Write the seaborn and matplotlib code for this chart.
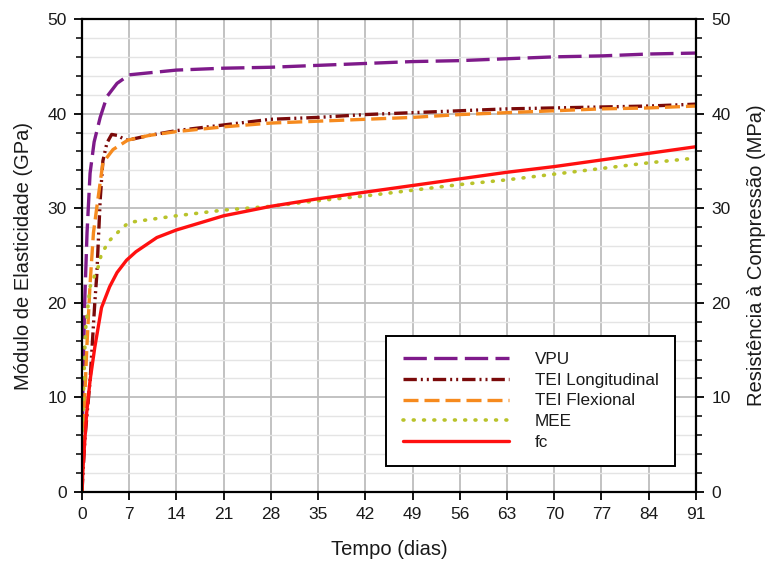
import numpy as np
import pandas as pd
import matplotlib
matplotlib.use("Agg")
import matplotlib.pyplot as plt
from matplotlib.ticker import MultipleLocator
import seaborn as sns

# Elastic modulus (GPa) and compressive strength (MPa) versus age (days)
vpu_t = [0, 0.15, 0.4, 0.75, 1.2, 1.8, 2.7, 3.7, 5.2, 7, 14, 21, 28, 35, 42, 49, 56, 63, 70, 77, 84, 91]
vpu_e = [0, 12, 20, 27.4, 33.7, 37.0, 39.6, 41.8, 43.2, 44.1, 44.6, 44.8, 44.9, 45.1, 45.3, 45.5, 45.6, 45.8, 46.0, 46.1, 46.3, 46.4]

teil_t = [0, 0.45, 1.2, 1.9, 2.2, 2.7, 3.1, 3.7, 4.4, 5.2, 6.0, 6.8, 10, 14, 21, 28, 35, 42, 49, 56, 63, 70, 77, 84, 91]
teil_e = [0, 5.8, 11.8, 20.0, 23.0, 30.9, 35.0, 36.9, 37.8, 37.7, 37.4, 37.2, 37.7, 38.2, 38.8, 39.4, 39.6, 39.9, 40.1, 40.3, 40.5, 40.6, 40.7, 40.8, 41.0]

teif_t = [0, 0.3, 0.7, 1.2, 1.7, 2.2, 3.1, 4.6, 6.8, 10, 14, 21, 28, 35, 42, 49, 56, 63, 70, 77, 84, 91]
teif_e = [0, 8, 15, 22.0, 27.4, 30.1, 34.8, 36.2, 37.2, 37.7, 38.1, 38.6, 39.0, 39.2, 39.4, 39.6, 39.9, 40.1, 40.3, 40.5, 40.6, 40.8]

mee_t = [0, 0.15, 0.5, 1.2, 2.4, 2.9, 4.1, 6.1, 7, 14, 21, 28, 35, 42, 49, 56, 63, 70, 77, 84, 91]
mee_e = [0, 8.4, 17.0, 21.7, 23.8, 25.2, 26.6, 28.0, 28.5, 29.2, 29.8, 30.2, 30.8, 31.3, 31.9, 32.5, 33.0, 33.6, 34.2, 34.8, 35.3]

fc_t = [0, 0.15, 0.7, 1.2, 1.9, 2.9, 4.1, 5.2, 6.6, 8, 11.1, 14, 21, 28, 35, 42, 49, 56, 63, 70, 77, 84, 91]
fc_v = [0, 2.6, 8.4, 11.8, 15.3, 19.5, 21.7, 23.2, 24.5, 25.4, 26.9, 27.7, 29.2, 30.2, 31.0, 31.7, 32.4, 33.1, 33.8, 34.4, 35.1, 35.8, 36.5]

x_ticks = list(range(0, 92, 7))
y_ticks = [0, 10, 20, 30, 40, 50]

series = [
    ("VPU", vpu_t, vpu_e, "#7E1A8A", (7, 2.2)),
    ("TEI Longitudinal", teil_t, teil_e, "#7A0A0A", (4, 1.2, 0.6, 1.2, 0.6, 1.2)),
    ("TEI Flexional", teif_t, teif_e, "#F68A1E", (4.5, 1.8)),
    ("MEE", mee_t, mee_e, "#B9C32B", (0.25, 2.6)),
    ("fc", fc_t, fc_v, "#FF1010", None),
]

sns.set_theme(style="white")
plt.rcParams["font.family"] = ["Liberation Sans", "DejaVu Sans"]

fig = plt.figure(figsize=(7.69, 5.69), dpi=100)
ax = fig.add_axes([0.1066, 0.1353, 0.7984, 0.8313])

for name, t, v, color, dashes in series:
    df = pd.DataFrame({"t": t, "v": v})
    sns.lineplot(data=df, x="t", y="v", ax=ax, color=color, lw=2.4,
                 label=name, estimator=None, sort=False)
    ln = ax.get_lines()[-1]
    if dashes is not None:
        ln.set_dashes(dashes)
    if name == "MEE":
        ln.set_dash_capstyle("round")
        ln.set_linewidth(2.6)

ax.set_xlim(0, 91)
ax.set_ylim(0, 50)
ax.set_xticks(x_ticks)
ax.set_yticks(y_ticks)
ax.yaxis.set_minor_locator(MultipleLocator(2))

ax.grid(True, which="major", color="#BDBDBD", lw=1.3)
ax.grid(True, which="minor", axis="y", color="#E4E4E4", lw=1.0)
ax.set_axisbelow(True)

for sp in ax.spines.values():
    sp.set_color("black")
    sp.set_linewidth(1.6)

ax.tick_params(axis="both", which="major", direction="out", length=6, width=1.3,
               color="black", labelsize=12.5, pad=5, left=True, bottom=True,
               labelcolor="#1a1a1a")
ax.tick_params(axis="y", which="minor", direction="out", length=4, width=1.1,
               color="black", left=True)

ax.set_xlabel("Tempo (dias)", fontsize=14.5, labelpad=13, color="#1a1a1a")
ax.set_ylabel("Módulo de Elasticidade (GPa)", fontsize=14.5, labelpad=10, color="#1a1a1a")

ax2 = ax.twinx()
ax2.set_ylim(0, 50)
ax2.set_yticks(y_ticks)
ax2.yaxis.set_minor_locator(MultipleLocator(2))
ax2.tick_params(axis="y", which="major", direction="out", length=6, width=1.3,
                color="black", labelsize=12.5, pad=5, right=True, labelcolor="#1a1a1a")
ax2.tick_params(axis="y", which="minor", direction="out", length=4, width=1.1,
                color="black", right=True)
ax2.set_ylabel("Resistência à Compressão (MPa)", fontsize=14.5, labelpad=12, color="#1a1a1a")
ax2.grid(False)
for sp in ax2.spines.values():
    sp.set_visible(False)

leg = ax.legend(loc="lower right", bbox_to_anchor=(0.966, 0.055), fontsize=12.3,
                handlelength=6.25, handletextpad=1.5, labelspacing=0.33,
                borderpad=0.95, borderaxespad=0, fancybox=False, framealpha=1,
                edgecolor="black")
leg.get_frame().set_linewidth(1.4)
for txt in leg.get_texts():
    txt.set_color("#1a1a1a")

fig.savefig("out.png", dpi=100)
